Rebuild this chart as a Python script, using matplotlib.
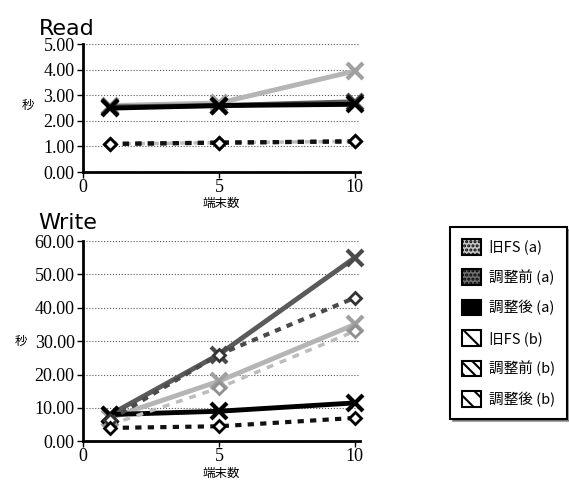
#Read / Write times vs number of terminals
import numpy as np
import matplotlib.pyplot as plt
from matplotlib.patches import Patch

plt.rcParams['font.family'] = ['Noto Sans CJK JP', 'DejaVu Sans']

terminals = [1, 5, 10]
labels = ['旧FS (a)', '調整前 (a)', '調整後 (a)', '旧FS (b)', '調整前 (b)', '調整後 (b)']

#Read [s]
read_old_a  = [2.6, 2.7, 3.95]
read_pre_a  = [2.55, 2.6, 2.75]
read_post_a = [2.5, 2.6, 2.65]
read_old_b  = [1.1, 1.15, 1.2]
read_pre_b  = [1.1, 1.15, 1.2]
read_post_b = [1.1, 1.15, 1.2]

#Write [s]
write_old_a  = [7, 18, 35]
write_pre_a  = [8, 26, 55]
write_post_a = [8, 9, 11.5]
write_old_b  = [5, 16, 33]
write_pre_b  = [6.5, 26, 43]
write_post_b = [4, 4.5, 7]

read_yticks = [0, 1, 2, 3, 4, 5]
write_yticks = [0, 10, 20, 30, 40, 50, 60]

styles = [
    dict(color='#b5b5b5', lw=3.5, ls='-', marker='x', ms=11, mew=3, mec='#a0a0a0'),
    dict(color='#5a5a5a', lw=3.5, ls='-', marker='x', ms=11, mew=3, mec='#4a4a4a'),
    dict(color='black', lw=3.5, ls='-', marker='x', ms=11, mew=3, mec='black'),
    dict(color='#bdbdbd', lw=2.5, ls=(0, (2, 2)), marker='D', ms=6, mew=2, mec='#909090', mfc='white'),
    dict(color='#4a4a4a', lw=3, ls=(0, (1.5, 1.5)), marker='D', ms=6, mew=2, mec='#333333', mfc='white'),
    dict(color='#111111', lw=3, ls=(0, (1.5, 1.5)), marker='D', ms=6, mew=2, mec='black', mfc='white'),
]

fig = plt.figure(figsize=(5.69, 4.86), dpi=100)
serif = 'Liberation Serif'

def setup(ax, yticks, title):
    ax.set_xlim(0, 10.2)
    ax.set_ylim(yticks[0], yticks[-1])
    ax.set_yticks(yticks)
    ax.set_yticklabels(['%.2f' % v for v in yticks], fontfamily=serif, fontsize=13)
    ax.set_xticks([0, 5, 10])
    ax.set_xticklabels(['0', '5', '10'], fontfamily=serif, fontsize=13)
    ax.yaxis.grid(True, ls=':', color='#555555', lw=0.8)
    ax.set_axisbelow(True)
    for s in ['top', 'right']:
        ax.spines[s].set_visible(False)
    ax.spines['left'].set_linewidth(2)
    ax.spines['bottom'].set_linewidth(2)
    ax.tick_params(axis='x', direction='out', length=4, width=1, pad=1)
    ax.tick_params(axis='y', direction='out', length=4, width=1, pad=2)
    ax.set_xlabel('端末数', fontsize=9, labelpad=1)
    ax.set_ylabel('秒', fontsize=9, rotation=0, va='center')
    ax.text(-0.16, 1.04, title, transform=ax.transAxes, fontsize=16,
            fontfamily='DejaVu Sans', ha='left', va='bottom')

#Read
ax1 = fig.add_axes([0.146, 0.646, 0.487, 0.263])
for y, st in zip([read_old_a, read_pre_a, read_post_a, read_old_b, read_pre_b, read_post_b], styles):
    ax1.plot(terminals, y, **st, clip_on=False)
setup(ax1, read_yticks, 'Read')
ax1.yaxis.set_label_coords(-0.2, 0.52)

#Write
ax2 = fig.add_axes([0.146, 0.092, 0.487, 0.412])
for y, st in zip([write_old_a, write_pre_a, write_post_a, write_old_b, write_pre_b, write_post_b], styles):
    ax2.plot(terminals, y, **st, clip_on=False)
setup(ax2, write_yticks, 'Write')
ax2.yaxis.set_label_coords(-0.225, 0.5)

#legend
plt.rcParams['hatch.linewidth'] = 1.5
handles = [
    Patch(facecolor='#c8c8c8', edgecolor='black', hatch='....', lw=1.5),
    Patch(facecolor='#707070', edgecolor='black', hatch='....', lw=1.5),
    Patch(facecolor='black', edgecolor='black', lw=1.5),
    Patch(facecolor='white', edgecolor='black', hatch='\\\\', lw=1.5),
    Patch(facecolor='white', edgecolor='black', hatch='\\\\\\', lw=1.5),
    Patch(facecolor='white', edgecolor='black', hatch='\\\\', lw=1.5),
]
leg = fig.legend(handles, labels, loc='upper left', bbox_to_anchor=(0.778, 0.548),
                 fontsize=10.5, frameon=True, fancybox=False, shadow=True,
                 handlelength=1.3, handleheight=1.3, labelspacing=1.0,
                 borderpad=0.8, handletextpad=0.6)
leg.get_frame().set_edgecolor('black')
leg.get_frame().set_linewidth(1.5)

fig.savefig('out.png', dpi=100)
